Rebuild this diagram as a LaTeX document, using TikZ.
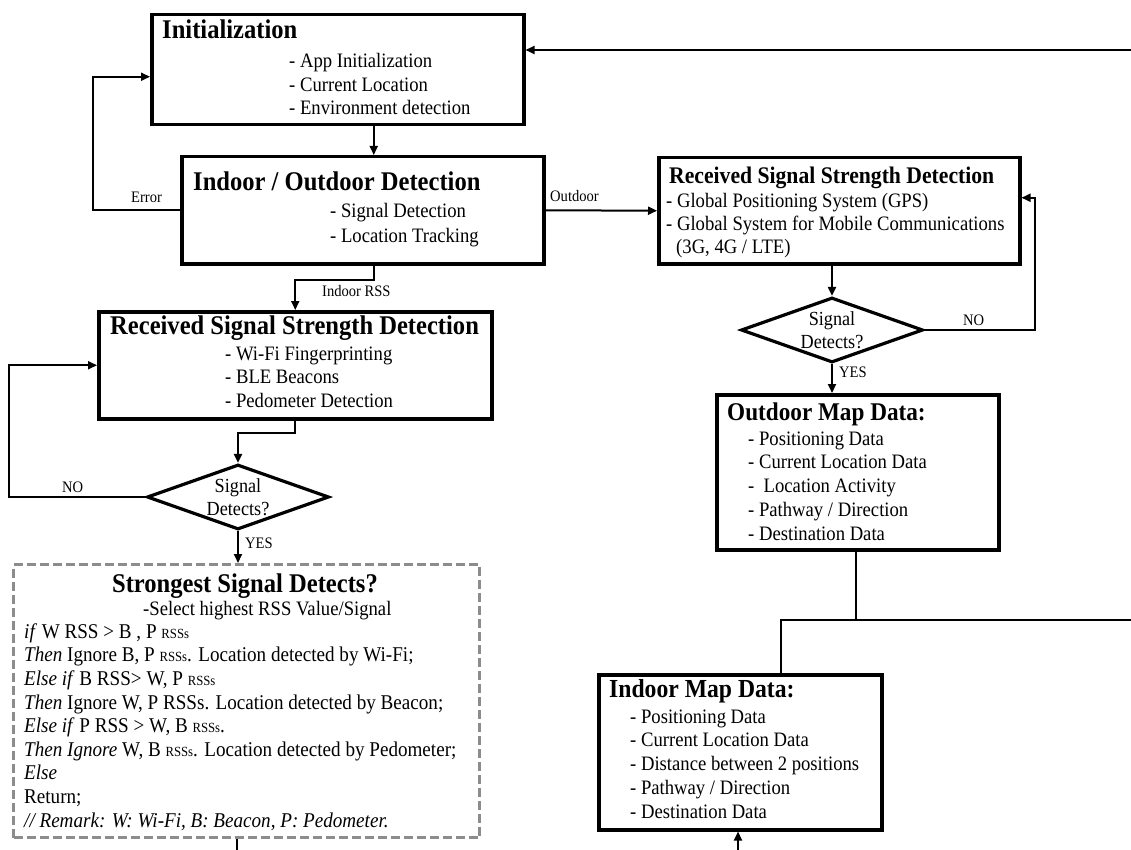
\documentclass[tikz,border=0pt]{standalone}
\usepackage{fontspec}
\setmainfont{Liberation Serif}[FakeStretch=0.91]
\usepackage{tikz}
\usetikzlibrary{shapes.geometric, arrows.meta, positioning}

\newcommand{\rsss}{{\fontsize{14}{14}\selectfont RSSs}}

\begin{document}
\begin{tikzpicture}[
    x=1pt, y=-1pt,
    box/.style={rectangle, draw=black, line width=3.5pt, inner sep=0pt, anchor=north west},
    dashbox/.style={rectangle, draw=black!45, line width=3pt, dash pattern=on 9pt off 4pt, inner sep=0pt, anchor=north west},
    decide/.style={diamond, draw=black, line width=3.2pt, inner sep=0pt, minimum width=182pt, minimum height=65pt},
    title/.style={font=\fontsize{27}{30}\selectfont\bfseries, inner sep=0pt, anchor=base west},
    items/.style={font=\fontsize{20.5}{24}\selectfont, align=left, inner sep=0pt, anchor=base west},
    dtext/.style={font=\fontsize{20}{23}\selectfont, align=center, inner sep=0pt},
    lbl/.style={font=\fontsize{16}{18}\selectfont, inner sep=0pt, anchor=base west},
    link/.style={line width=2pt, draw=black},
    arrow/.style={link, -{Triangle[length=9pt, width=8pt]}}
]
\useasboundingbox (0,0) rectangle (1131,850);

% Boxes
\node[box, minimum width=372pt, minimum height=110pt] (init) at (150,13) {};
\node[box, minimum width=362pt, minimum height=107pt] (io) at (180,155) {};
\node[box, minimum width=393pt, minimum height=107pt] (rssIn) at (97,310) {};
\node[decide] (dIn) at (238,497) {};
\node[dashbox, minimum width=466pt, minimum height=273pt] (strong) at (12,563) {};
\node[box, minimum width=361pt, minimum height=106pt] (rssOut) at (657,156) {};
\node[decide] (dOut) at (832,330) {};
\node[box, minimum width=282pt, minimum height=155pt] (omap) at (715,393) {};
\node[box, minimum width=283pt, minimum height=155pt] (imap) at (597,673) {};

% Texts (multi-line lists sit on their last baseline)
\node[title] (initT) at (162,39) {Initialization};
\node[items, font=\fontsize{20.5}{23.5}\selectfont] (initL) at (289,115) {- App Initialization\\- Current Location\\- Environment detection};
\node[title] (ioT) at (193,191) {Indoor / Outdoor Detection};
\node[items, font=\fontsize{20.5}{25}\selectfont] (ioL) at (330,243) {- Signal Detection\\- Location Tracking};
\node[title] (rssInT) at (110,334) {Received Signal Strength Detection};
\node[items, font=\fontsize{20.5}{23.5}\selectfont] (rssInL) at (225,407) {- Wi-Fi Fingerprinting\\- BLE Beacons\\- Pedometer Detection};
\node[dtext] (dInT) at (dIn.center) {Signal\\Detects?};
\node[title, anchor=base] (strongT) at (245,592) {Strongest Signal Detects?};
\node[items] (strongS) at (143,615) {-Select highest RSS Value/Signal};
\node[items, font=\fontsize{21}{23.6}\selectfont] (strongL) at (24,827) {%
  \textit{if} W RSS > B , P \rsss\\
  \textit{Then} Ignore B, P \rsss. Location detected by Wi-Fi;\\
  \textit{Else if} B RSS> W, P \rsss\\
  \textit{Then} Ignore W, P RSSs. Location detected by Beacon;\\
  \textit{Else if} P RSS > W, B \rsss.\\
  \textit{Then Ignore} W, B \rsss. Location detected by Pedometer;\\
  \textit{Else}\\
  Return;\\
  \textit{// Remark: W: Wi-Fi, B: Beacon, P: Pedometer.}};
\node[title, font=\fontsize{23.8}{28}\selectfont\bfseries] (rssOutT) at (669,184) {Received Signal Strength Detection};
\node[items, font=\fontsize{20.5}{23.5}\selectfont] (rssOutL) at (666,254) {- Global Positioning System (GPS)\\- Global System for Mobile Communications\\\hspace*{10pt}(3G, 4G / LTE)};
\node[dtext] (dOutT) at (dOut.center) {Signal\\Detects?};
\node[title, font=\fontsize{25.5}{30}\selectfont\bfseries] (omapT) at (727,420) {Outdoor Map Data:};
\node[items, font=\fontsize{20.5}{23.75}\selectfont] (omapL) at (748,540) {- Positioning Data\\- Current Location Data\\- \ Location Activity\\- Pathway / Direction\\- Destination Data};
\node[title, font=\fontsize{26}{30}\selectfont\bfseries] (imapT) at (609,697) {Indoor Map Data:};
\node[items, font=\fontsize{20.5}{23.75}\selectfont] (imapL) at (630,818) {- Positioning Data\\- Current Location Data\\- Distance between 2 positions\\- Pathway / Direction\\- Destination Data};

% Free ends and taps
\coordinate (ioTop) at ([xshift=11pt]io.north);
\coordinate (ioBot) at ([xshift=11pt]io.south);
\coordinate (topIn) at (1131,50);
\coordinate (jn) at (856,620);
\coordinate (rEdge) at (1131,620);
\coordinate (botIn) at (738,850);
\coordinate (botOut) at (237,850);

% Arrows
\draw[arrow] (init.south -| ioTop) -- (ioTop);
\draw[arrow] (io.west) -- ++(-87,0) |- ([yshift=-7pt]init.west);
\node[lbl] (errL) at (131,203) {Error};
\draw[arrow] (io.east) -- (rssOut.west);
\node[lbl] (outL) at (550,202) {Outdoor};
\draw[arrow] (ioBot) -- ++(0,14) -| (rssIn.north);
\node[lbl] (inL) at (322,296) {Indoor RSS};
\draw[arrow] (rssIn.south) -- ++(0,12) -| (dIn.north);
\draw[arrow] (dIn.west) -- ++(-136,0) |- (rssIn.west);
\node[lbl] (noInL) at (62,492) {NO};
\draw[arrow] (dIn.south) -- (dIn.south |- strong.north);
\node[lbl] (yesInL) at (245,548) {YES};
\draw[link] (botOut |- strong.south) -- (botOut);
\draw[arrow] (dOut.north |- rssOut.south) -- (dOut.north);
\draw[arrow] (dOut.east) -- ++(110,0) |- ([yshift=13pt]rssOut.east);
\node[lbl] (noOutL) at (963,325) {NO};
\draw[arrow] (dOut.south) -- (dOut.south |- omap.north);
\node[lbl] (yesOutL) at (839,377) {YES};
\draw[link] (omap.south -| jn) -- (jn) -- (rEdge);
\draw[link] (jn) -| ([xshift=41pt]imap.north);
\draw[arrow] (botIn) -- (botIn |- imap.south);
\draw[arrow] (topIn) -- (topIn -| init.east);

\end{tikzpicture}
\end{document}
